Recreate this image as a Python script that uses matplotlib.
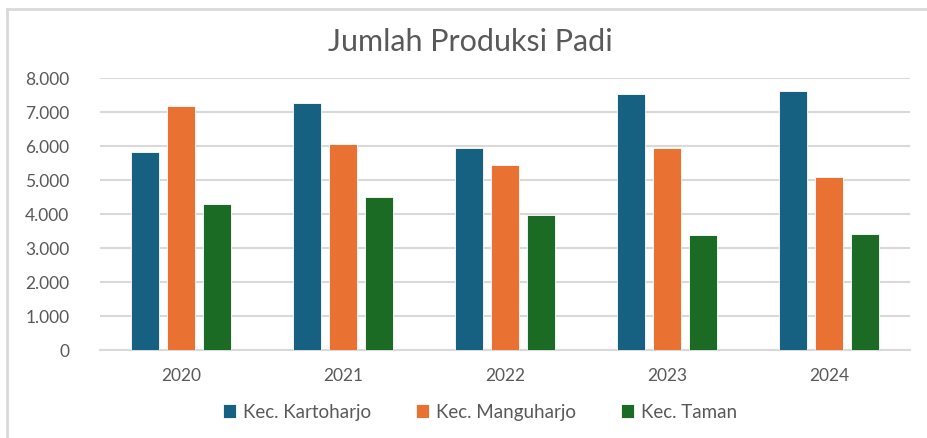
import matplotlib
matplotlib.use("Agg")
import matplotlib.pyplot as plt
from matplotlib.lines import Line2D
from matplotlib.ticker import FuncFormatter, MultipleLocator
import numpy as np

plt.rcParams["font.family"] = ["Lato", "DejaVu Sans"]

years = ["2020", "2021", "2022", "2023", "2024"]
series = ["Kec. Kartoharjo", "Kec. Manguharjo", "Kec. Taman"]
kartoharjo = [5810, 7265, 5930, 7520, 7630]
manguharjo = [7175, 6065, 5440, 5930, 5100]
taman = [4280, 4505, 3970, 3380, 3410]
colors = ["#166082", "#E97132", "#1B6B24"]

W, H = 927, 439
fig = plt.figure(figsize=(W / 100, H / 100), dpi=100)
ax = fig.add_axes([100 / W, 1 - 351 / H, 810 / W, 272 / H])

x = np.arange(len(years))
step = 0.222
width = 0.173
for i, (vals, c, name) in enumerate(zip([kartoharjo, manguharjo, taman], colors, series)):
    ax.bar(x + (i - 1) * step, vals, width, color=c, edgecolor="white",
           linewidth=0.6, label=name, zorder=3)

ax.set_xlim(-0.5, len(years) - 0.5)
ax.set_ylim(0, 8000)
ax.yaxis.set_major_locator(MultipleLocator(1000))
ax.yaxis.set_major_formatter(FuncFormatter(lambda v, p: f"{v:,.0f}".replace(",", ".")))
ax.set_xticks(x)
ax.set_xticklabels(years)
ax.grid(axis="y", color="#D9D9D9", linewidth=1.5, zorder=0)
for s in ["top", "right", "left"]:
    ax.spines[s].set_visible(False)
ax.spines["bottom"].set_color("#D9D9D9")
ax.spines["bottom"].set_linewidth(1.5)
ax.tick_params(axis="both", length=0, labelsize=12.5, colors="#595959")
ax.tick_params(axis="y", pad=22)
ax.tick_params(axis="x", pad=12)

fig.text(470 / W, 1 - 42 / H, "Jumlah Produksi Padi", ha="center", va="center",
         fontsize=22, color="#595959")

ax.legend(loc="center", bbox_to_anchor=(480 / W, 1 - 413 / H),
          bbox_transform=fig.transFigure, ncol=3, frameon=False,
          fontsize=13.5, handlelength=0.7, handleheight=0.7,
          handletextpad=0.35, columnspacing=2.4, labelcolor="#595959")

# chart frame (top and left edges visible)
fig.add_artist(Line2D([7 / W, 1], [1 - 10 / H, 1 - 10 / H], color="#D9D9D9", lw=2,
                      transform=fig.transFigure))
fig.add_artist(Line2D([7 / W, 7 / W], [0, 1 - 10 / H], color="#D9D9D9", lw=2,
                      transform=fig.transFigure))

fig.savefig("out.png", dpi=100)
